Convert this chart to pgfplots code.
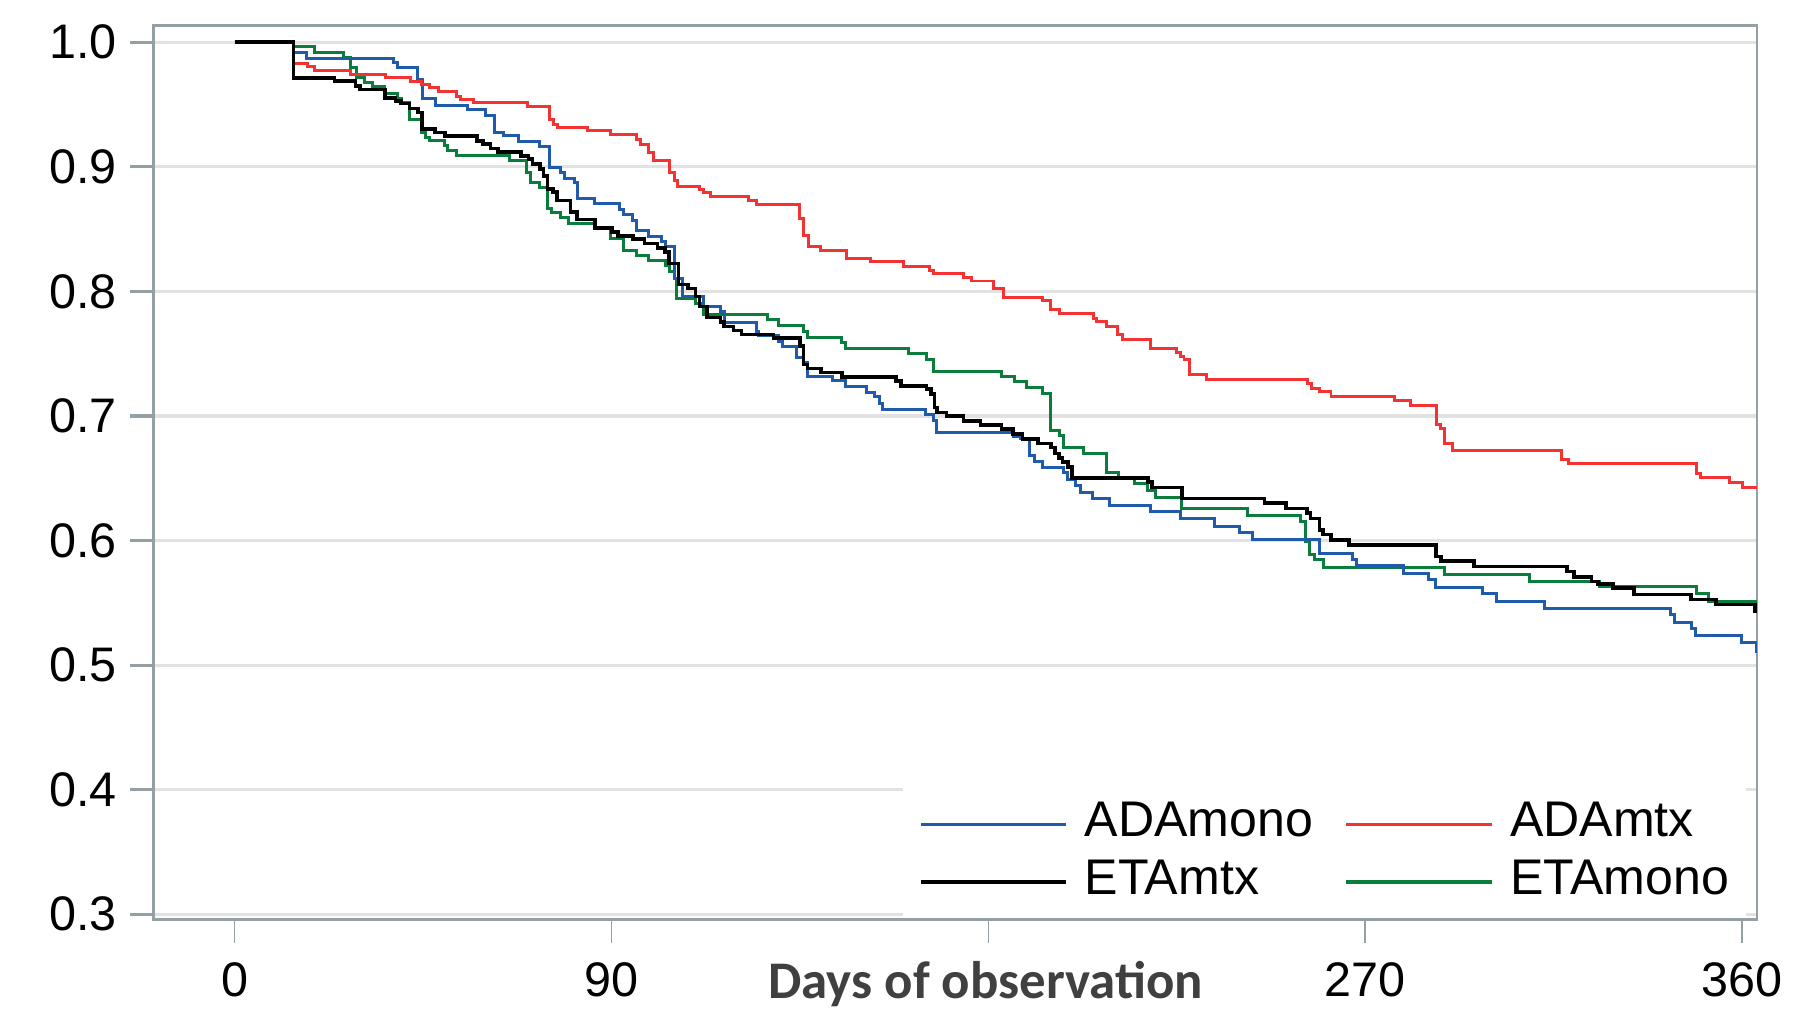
\documentclass[border=0pt]{standalone}
\usepackage{fontspec}
\setmainfont{Liberation Sans}
\newfontfamily\carlito{Carlito}
\usepackage{pgfplots}
\pgfplotsset{compat=1.18}
\usetikzlibrary{calc}

\definecolor{framegray}{RGB}{148,160,163}
\definecolor{gridgray}{RGB}{226,226,226}
\definecolor{labelgray}{RGB}{64,64,64}
\definecolor{kmblue}{RGB}{32,90,170}
\definecolor{kmred}{RGB}{245,50,50}
\definecolor{kmgreen}{RGB}{10,125,60}

\begin{document}
\begin{tikzpicture}
\begin{axis}[
  name=ax,
  scale only axis, width=403.2pt, height=224.75pt,
  xmin=-19.3, xmax=363.5, ymin=0.2958, ymax=1.0131,
  axis line style={framegray, line width=0.7pt},
  xtick={0,90,180,270,360}, xticklabels={0,90,,270,360},
  ytick={0.3,0.4,0.5,0.6,0.7,0.8,0.9,1.0},
  yticklabels={0.3,0.4,0.5,0.6,0.7,0.8,0.9,1.0},
  xtick pos=bottom, ytick pos=left,
  tick align=outside, major tick length=6pt,
  x tick style={framegray, line width=0.45pt},
  y tick style={framegray, line width=0.8pt},
  ymajorgrids, grid style={gridgray, line width=0.8pt},
  /pgf/number format/assume math mode=true,
  tick label style={font=\fontsize{12.2}{14}\selectfont},
  xticklabel style={anchor=base, yshift=-13.3pt},
  yticklabel style={anchor=east, inner xsep=0pt, xshift=-3.1pt},
  xlabel={Days of observation},
  xlabel style={at={(axis description cs:0.519,-0.0884)}, anchor=base,
    font=\carlito\bfseries\fontsize{13.3}{15}\selectfont, text=labelgray},
  legend columns=2,
  legend cell align=left,
  legend image code/.code={\draw[#1] (0pt,0pt) -- (36.5pt,0pt);},
  legend style={at={(axis description cs:0.4666,0.148)}, anchor=north west,
    draw=none, fill=white, font=\fontsize{12.6}{14}\selectfont,
    inner xsep=4.2pt, inner ysep=3pt, row sep=2.2pt,
    nodes={inner sep=0pt, text height=9.3pt, text depth=3pt},
    /tikz/every odd column/.append style={column sep=4.3pt},
    /tikz/every even column/.append style={column sep=8pt}},
]
% ETAmono
\addplot[kmgreen, line width=0.75pt, const plot, forget plot] coordinates {
(0,1)(14.07,0.9966)(19.1,0.9918)(26.1,0.9880)(27.8,0.9793)(29.05,0.9713)
(31.0,0.9678)(33.0,0.9641)(35.9,0.9588)(39.0,0.9545)(39.8,0.9518)(41.8,0.9380)
(44.75,0.9274)(45.7,0.9234)(46.5,0.9208)(50.2,0.9168)(50.9,0.9128)(52.9,0.9088)
(65.6,0.9048)(69.7,0.8955)(70.6,0.8875)(72.9,0.8835)(74.7,0.8662)(75.6,0.8636)
(77.9,0.8596)(79.7,0.8543)(86.05,0.8503)(89.7,0.8423)(92.9,0.8330)(96.0,0.8290)
(98.8,0.8250)(102.8,0.8210)(103.75,0.8157)(105.1,0.8104)(105.6,0.7944)(110.1,0.7904)
(111.9,0.7811)(127.3,0.7772)(130.0,0.7727)(135.9,0.7679)(136.85,0.7631)(145.0,0.7586)
(145.9,0.7541)(160.9,0.7498)(165.2,0.7453)(167.0,0.7360)(183.1,0.7315)(186.3,0.7280)
(189.0,0.7227)(192.85,0.7179)(194.9,0.6886)(197.0,0.6841)(197.9,0.6748)(202.8,0.6700)
(208.1,0.6549)(211.0,0.6509)(214.9,0.6456)(218.1,0.6402)(219.9,0.6349)(226.1,0.6256)
(241.9,0.6203)(254.6,0.6150)(255.8,0.5990)(256.6,0.5884)(257.9,0.5844)(259.9,0.5785)
(288.85,0.5724)(309.1,0.5671)(326.0,0.5631)(349.0,0.5573)(352.0,0.5511)(364,0.5511)
};
% ADAmono
\addplot[kmblue, line width=0.75pt, const plot, forget plot] coordinates {
(0,1)(14.07,0.9918)(17.1,0.9872)(38.0,0.9833)(38.85,0.9793)(43.8,0.9700)
(44.9,0.9545)(47.9,0.9492)(55.6,0.9460)(59.9,0.9413)(62.0,0.9274)(64.3,0.9248)
(67.9,0.9200)(72.9,0.9162)(75.2,0.8995)(77.9,0.8955)(78.8,0.8907)(81.1,0.8870)
(81.8,0.8742)(86.05,0.8702)(92.0,0.8657)(92.9,0.8615)(95.1,0.8569)(96.0,0.8490)
(98.8,0.8444)(102.0,0.8402)(102.8,0.8356)(105.1,0.8104)(107.0,0.7958)(111.9,0.7878)
(116.0,0.7835)(116.9,0.7746)(124.6,0.7680)(125.05,0.7647)(130.0,0.7599)(130.95,0.7560)
(134.1,0.7466)(135.9,0.7426)(136.85,0.7320)(142.75,0.7285)(145.9,0.7240)(150.9,0.7187)
(152.7,0.7152)(154.1,0.7099)(154.8,0.7054)(165.0,0.7014)(166.8,0.6966)(167.7,0.6868)
(185.9,0.6833)(187.7,0.6815)(189.8,0.6682)(190.9,0.6636)(192.85,0.6583)(197.9,0.6549)
(198.8,0.6488)(200.8,0.6442)(201.9,0.6389)(204.9,0.6336)(209.0,0.6283)(218.8,0.6230)
(225.8,0.6176)(233.95,0.6115)(239.9,0.6065)(243.0,0.6005)(259.1,0.5897)(267.0,0.5844)
(267.8,0.5796)(279.0,0.5737)(285.1,0.5684)(286.8,0.5626)(297.9,0.5573)(301.2,0.5511)
(312.8,0.5458)(342.8,0.5405)(343.9,0.5344)(347.9,0.5290)(348.9,0.5237)(359.9,0.5179)
(363.35,0.5112)(364,0.5112)
};
% ADAmtx
\addplot[kmred, line width=0.75pt, const plot, forget plot] coordinates {
(0,1)(14.07,0.9827)(17.5,0.9806)(19.1,0.9771)(27.8,0.9740)(36.0,0.9713)
(42.0,0.9686)(44.75,0.9660)(46.6,0.9633)(48.8,0.9607)(53.0,0.9567)(54.0,0.9540)
(57.0,0.9514)(70.0,0.9487)(75.2,0.9381)(76.1,0.9341)(77.0,0.9314)(84.2,0.9287)
(89.7,0.9261)(96.0,0.9221)(97.0,0.9181)(98.8,0.9115)(100.0,0.9053)(103.75,0.8955)
(105.1,0.8888)(105.75,0.8840)(111.0,0.8817)(111.9,0.8795)(113.7,0.8761)(122.8,0.8729)
(124.6,0.8697)(135.0,0.8583)(135.9,0.8450)(137.0,0.8357)(140.0,0.8330)(146.1,0.8263)
(151.8,0.8237)(159.8,0.8202)(165.9,0.8170)(166.8,0.8144)(174.1,0.8109)(175.9,0.8083)
(181.1,0.8019)(183.6,0.7952)(192.85,0.7923)(194.9,0.7851)(197.0,0.7825)(205.2,0.7785)
(205.8,0.7758)(208.1,0.7718)(210.8,0.7652)(211.9,0.7612)(218.8,0.7545)(224.9,0.7513)
(225.8,0.7479)(226.7,0.7452)(227.9,0.7333)(232.0,0.7293)(256.2,0.7259)(257.05,0.7222)
(259.1,0.7195)(261.8,0.7155)(276.9,0.7121)(280.8,0.7081)(287.0,0.6934)(288.0,0.6900)
(288.85,0.6780)(290.9,0.6722)(316.9,0.6647)(318.6,0.6615)(349.0,0.6535)(350.0,0.6503)
(357.0,0.6469)(360.0,0.6429)(364,0.6429)
};
% ETAmtx
\addplot[black, line width=0.9pt, const plot, forget plot] coordinates {
(0,1)(14.07,0.9713)(23.9,0.9686)(28.9,0.9646)(30.0,0.9620)(35.9,0.9553)
(38.4,0.9527)(39.8,0.9508)(41.8,0.9466)(43.8,0.9434)(44.75,0.9301)(47.9,0.9274)
(50.2,0.9248)(57.9,0.9208)(59.3,0.9181)(61.1,0.9147)(62.9,0.9120)(68.4,0.9088)
(70.2,0.9061)(71.1,0.9021)(72.9,0.8982)(73.8,0.8928)(74.7,0.8822)(76.1,0.8795)
(77.0,0.8729)(80.2,0.8636)(81.8,0.8577)(86.05,0.8508)(90.1,0.8476)(91.5,0.8444)
(95.1,0.8418)(97.85,0.8383)(101.0,0.8349)(102.8,0.8317)(103.75,0.8224)(106.0,0.8056)
(108.3,0.8024)(110.1,0.7958)(111.0,0.7878)(112.8,0.7790)(116.0,0.7753)(116.9,0.7719)
(119.1,0.7684)(121.0,0.7652)(128.7,0.7626)(135.0,0.7559)(135.9,0.7413)(136.85,0.7381)
(140.0,0.7347)(145.0,0.7312)(158.0,0.7280)(159.1,0.7240)(165.2,0.7214)(166.35,0.7174)
(167.1,0.7067)(167.7,0.7027)(170.0,0.7000)(174.1,0.6961)(178.15,0.6929)(183.1,0.6895)
(185.9,0.6855)(188.1,0.6815)(191.8,0.6780)(194.9,0.6748)(195.85,0.6700)(196.8,0.6663)
(197.7,0.6628)(199.0,0.6589)(199.9,0.6503)(218.1,0.6469)(219.0,0.6424)(226.25,0.6336)
(245.95,0.6303)(251.1,0.6256)(256.1,0.6222)(256.9,0.6176)(259.1,0.6083)(259.9,0.6049)
(261.8,0.6003)(266.1,0.5964)(286.8,0.5870)(288.0,0.5836)(296.0,0.5791)(318.2,0.5751)
(319.8,0.5706)(324.0,0.5671)(325.6,0.5652)(329.1,0.5618)(334.1,0.5565)(347.7,0.5525)
(353.7,0.5485)(363.0,0.5432)(364,0.5432)
};
\addlegendimage{kmblue, line width=0.8pt}
\addlegendentry{ADAmono}
\addlegendimage{kmred, line width=0.8pt}
\addlegendentry{ADAmtx}
\addlegendimage{black, line width=0.8pt}
\addlegendentry{ETAmtx}
\addlegendimage{kmgreen, line width=0.8pt}
\addlegendentry{ETAmono}
\end{axis}
\path ($(ax.south west)+(-38.65pt,-24.25pt)$) rectangle ($(ax.north east)+(7pt,6.5pt)$);
\end{tikzpicture}
\end{document}
